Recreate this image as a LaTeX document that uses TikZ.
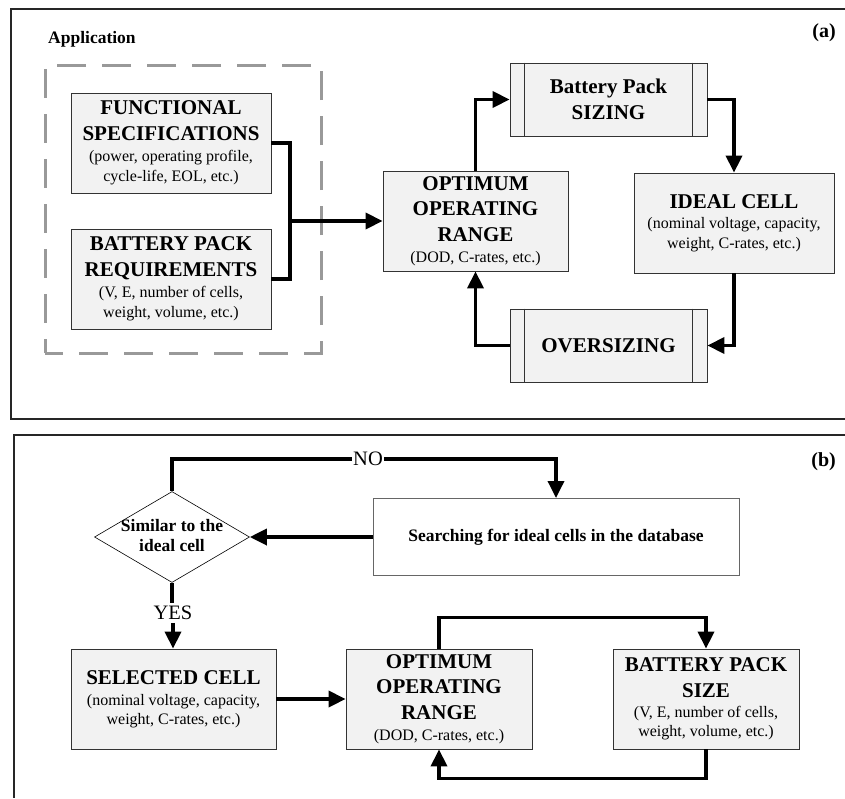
\documentclass[tikz,border=0pt]{standalone}
\usepackage{fontspec}
\setmainfont{Liberation Serif}
\usetikzlibrary{arrows.meta,shapes.geometric}
\newcommand\hdfont{\fontsize{21}{25.5}\selectfont\bfseries}
\newcommand\smfont{\fontsize{16}{20}\selectfont\mdseries}
\newcommand\mdbfont{\fontsize{17.5}{20}\selectfont\bfseries}

\begin{document}
\begin{tikzpicture}[x=1pt,y=-1pt,
  box/.style={draw=black!80, line width=0.8pt, fill=black!5, inner sep=0pt,
              align=center, font=\hdfont},
  plainbox/.style={draw=black!60, line width=1pt, fill=white, inner sep=0pt,
              align=center, font=\mdbfont},
  decision/.style={diamond, draw=black, line width=0.6pt, fill=white, inner sep=0pt},
  appbox/.style={draw=black!40, line width=3pt, dash pattern=on 29pt off 16pt,
              dash phase=11pt, inner sep=0pt},
  frame/.style={draw=black!85, line width=1.6pt},
  conn/.style={line width=3.5pt, black},
  arr/.style={conn, -{Triangle[length=17pt,width=16pt]}},
  lbl/.style={fill=white, font=\fontsize{20.5}{25}\selectfont, inner xsep=1pt},
  tag/.style={font=\fontsize{20}{24}\selectfont\bfseries, inner sep=0pt}]

\useasboundingbox (0,0) rectangle (845,798);

% ---------- part (a) ----------
\draw[frame] (845,9) -- (11,9) -- (11,419) -- (845,419);
\node[tag, anchor=base east] (taga) at (836,37) {(a)};
\node[font=\mdbfont, anchor=base west, inner sep=0pt] (apptitle) at (48,43) {Application};
\node[appbox, minimum width=276pt, minimum height=288pt] (app) at (183,209) {};

\node[box, minimum width=200pt, minimum height=100pt] (fs) at (171,143)
  {FUNCTIONAL\\SPECIFICATIONS\\[-4pt]\smfont (power, operating profile,\\[-5.5pt]\smfont cycle-life, EOL, etc.)};
\node[box, minimum width=200pt, minimum height=100pt] (bpr) at (171,279)
  {BATTERY PACK\\REQUIREMENTS\\[-4pt]\smfont (V, E, number of cells,\\[-5.5pt]\smfont weight, volume, etc.)};
\node[box, minimum width=185pt, minimum height=100pt] (opt) at (475.5,221)
  {OPTIMUM\\OPERATING\\RANGE\\[-4pt]\smfont (DOD, C-rates, etc.)};
\node[box, minimum width=197pt, minimum height=73pt] (siz) at (608.5,99.5)
  {Battery Pack\\SIZING};
\node[box, minimum width=200pt, minimum height=100pt] (ideal) at (734,223)
  {IDEAL CELL\\[-5.5pt]\smfont (nominal voltage, capacity,\\[-5.5pt]\smfont weight, C-rates, etc.)};
\node[box, minimum width=197pt, minimum height=73pt] (over) at (608.5,345.5)
  {OVERSIZING};

% predefined-process bars
\foreach \b in {siz,over}{
  \draw[black!80, line width=0.8pt] ([xshift=15pt]\b.north west) -- ([xshift=15pt]\b.south west);
  \draw[black!80, line width=0.8pt] ([xshift=-15pt]\b.north east) -- ([xshift=-15pt]\b.south east);
}

\coordinate (jn) at (290,221);
\draw[conn] (fs.east) -| (jn) |- (bpr.east);
\draw[arr] (jn) -- (opt.west);
\draw[arr] (opt.north) |- (siz.west);
\draw[arr] (siz.east) -| (ideal.north);
\draw[arr] (ideal.south) |- (over.east);
\draw[arr] (over.west) -| (opt.south);

% ---------- part (b) ----------
\draw[frame] (845,435) -- (14,435) -- (14,798);
\node[tag, anchor=base east] (tagb) at (836,466) {(b)};

\node[decision, minimum width=155pt, minimum height=91pt] (dec) at (172,537) {};
\node[font=\mdbfont, align=center, inner sep=0pt] (dectext) at (172,536)
  {Similar to the\\ideal cell};
\node[plainbox, minimum width=366pt, minimum height=77pt] (search) at (556,537)
  {Searching for ideal cells in the database};

\node[box, minimum width=205pt, minimum height=100pt] (sel) at (173.5,699)
  {SELECTED CELL\\[-4.5pt]\smfont (nominal voltage, capacity,\\[-6.5pt]\smfont weight, C-rates, etc.)};
\node[box, minimum width=186pt, minimum height=100pt] (opt2) at (439,699)
  {OPTIMUM\\OPERATING\\RANGE\\[-4pt]\smfont (DOD, C-rates, etc.)};
\node[box, minimum width=186pt, minimum height=100pt] (bps) at (706,699)
  {BATTERY PACK\\SIZE\\[-5.5pt]\smfont (V, E, number of cells,\\[-6.5pt]\smfont weight, volume, etc.)};

\draw[arr] (dec.north) |- ([yshift=39pt]search.north) -- (search.north);
\node[lbl] (no) at (368,459) {NO};
\draw[arr] (search.west) -- (dec.east);
\draw[conn] (dec.south) -- ++(0,20) coordinate (yesin);
\node[lbl, anchor=north, inner ysep=3pt] (yes) at ([xshift=1pt]yesin) {YES};
\draw[arr] (yes.south) -- (yes.south |- sel.north);
\draw[arr] (sel.east) -- (opt2.west);
\draw[arr] (opt2.north) |- ([yshift=31pt]bps.north) -- (bps.north);
\draw[arr] (bps.south) |- ([yshift=-29pt]opt2.south) -- (opt2.south);

\end{tikzpicture}
\end{document}
